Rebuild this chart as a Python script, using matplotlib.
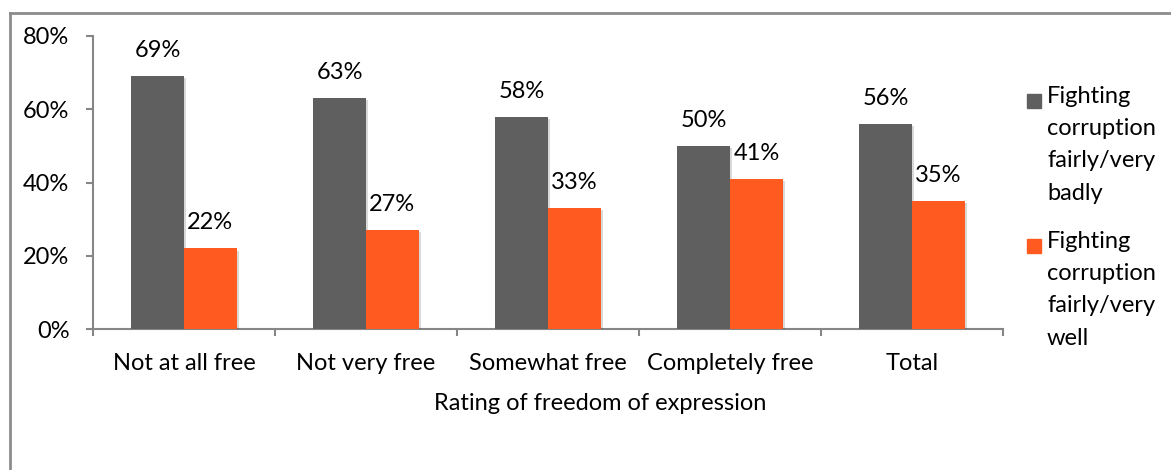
import matplotlib
matplotlib.use("Agg")
import matplotlib.pyplot as plt
import matplotlib.patheffects as pe
from matplotlib.patches import Rectangle
import numpy as np

plt.rcParams['font.family'] = ['Lato', 'DejaVu Sans']

categories = ["Not at all free", "Not very free", "Somewhat free", "Completely free", "Total"]
badly = [69, 63, 58, 50, 56]
well = [22, 27, 33, 41, 35]
series_labels = ["Fighting\ncorruption\nfairly/very\nbadly", "Fighting\ncorruption\nfairly/very\nwell"]
y_ticks = [0, 20, 40, 60, 80]
x_title = "Rating of freedom of expression"

GRAY = "#5f5f5f"
ORANGE = "#ff5a1f"
AXIS = "#868686"
FS = 17

W, H = 1171, 470
fig = plt.figure(figsize=(W / 100, H / 100), dpi=100)

# outer chart frame (left and top edges visible)
fig.add_artist(plt.Line2D([9.5 / W, 9.5 / W], [0, 1 - 12.5 / H], transform=fig.transFigure,
                          color="#8c8c8c", lw=2))
fig.add_artist(plt.Line2D([9.5 / W, 1], [1 - 12.5 / H, 1 - 12.5 / H], transform=fig.transFigure,
                          color="#8c8c8c", lw=2))

ax = fig.add_axes([93 / W, 141 / H, 910 / W, 293 / H])
x = np.arange(len(categories))
bw = 0.29
shadow = [pe.SimplePatchShadow(offset=(1.5, -1.5), shadow_rgbFace="black", alpha=0.15), pe.Normal()]
b1 = ax.bar(x - bw / 2, badly, bw, color=GRAY, zorder=3, path_effects=shadow)
b2 = ax.bar(x + bw / 2, well, bw, color=ORANGE, zorder=3, path_effects=shadow)

for bars, vals in ((b1, badly), (b2, well)):
    for r, v in zip(bars, vals):
        ax.annotate(f"{v}%", (r.get_x() + r.get_width() / 2, v), xytext=(0, 19),
                    textcoords="offset pixels", ha="center", va="baseline",
                    fontsize=FS, color="black", zorder=5)

ax.set_xlim(-0.5, len(categories) - 0.5)
ax.set_ylim(0, 80)
ax.set_yticks(y_ticks)
ax.set_yticklabels([f"{t}%" for t in y_ticks], fontsize=FS)

# boundary tick marks between categories, labels centred on categories
ax.set_xticks(np.arange(len(categories) + 1) - 0.5)
ax.set_xticklabels([])
ax.set_xticks(x, minor=True)
ax.set_xticklabels(categories, minor=True, fontsize=FS)
ax.tick_params(axis="x", which="major", length=5, width=1.5, color=AXIS, direction="out")
ax.tick_params(axis="x", which="minor", length=0, pad=17)
ax.tick_params(axis="y", length=5, width=1.5, color=AXIS, pad=12)

for s in ("top", "right"):
    ax.spines[s].set_visible(False)
for s in ("left", "bottom"):
    ax.spines[s].set_color(AXIS)
    ax.spines[s].set_linewidth(1.5)

fig.text(600 / W, 1 - 404 / H, x_title, ha="center", va="center", fontsize=FS)

# legend: square marker aligned with the first line of each entry
for col, lab, ytop in ((GRAY, series_labels[0], 86), (ORANGE, series_labels[1], 231)):
    fig.add_artist(Rectangle((1027 / W, 1 - (ytop + 22) / H), 14 / W, 14 / H,
                             transform=fig.transFigure, color=col))
    fig.text(1047 / W, 1 - ytop / H, lab, ha="left", va="top", fontsize=FS, linespacing=1.66)

fig.savefig("out.png", dpi=100)
